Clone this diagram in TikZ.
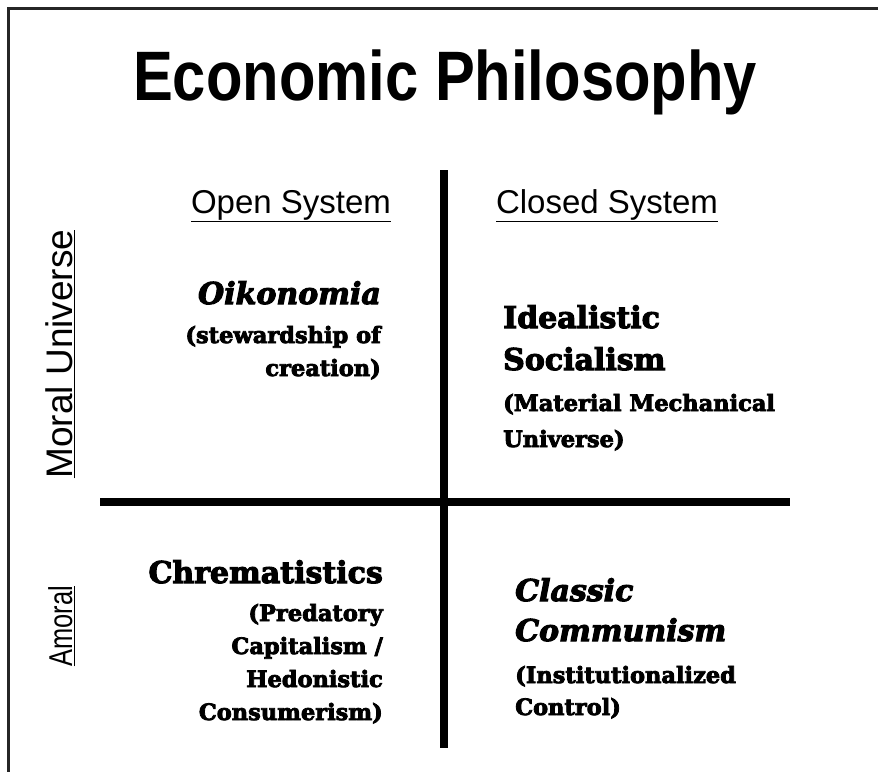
\documentclass[tikz,border=0pt]{standalone}
\usepackage{graphicx}
\usepackage{fontspec}
\setmainfont{DejaVu Serif}
\newfontfamily\arialfont{Liberation Sans}
\newfontfamily\slabfont[UprightFont=* Bold, ItalicFont=* Bold Italic, FakeBold=3.5]{DejaVu Serif}
\newcommand\headfont{\slabfont\fontsize{30}{38}\selectfont}
\newcommand\subfont{\slabfont\fontsize{22.5}{33}\selectfont}
\usetikzlibrary{positioning}

\begin{document}
\begin{tikzpicture}[x=1pt, y=-1pt,
    quad_text/.style={inner sep=0pt, font=\subfont},
    axis_label/.style={inner sep=0pt, font=\arialfont\fontsize{33}{40}\selectfont},
    divider/.style={line width=7.5pt}
]
\useasboundingbox (0,0) rectangle (878,772);

% frame (cut off right and bottom)
\coordinate (frame_tr) at (878,8);
\coordinate (frame_tl) at (8,8);
\coordinate (frame_bl) at (8,772);
\draw[line width=3pt, black!85] (frame_tr) -- (frame_tl) -- (frame_bl);

% title
\node[inner sep=0pt, anchor=base, font=\arialfont\bfseries\fontsize{70}{80}\selectfont] (title) at (445,100)
    {\scalebox{0.853}[1]{Economic Philosophy}};

% axis labels
\node[axis_label, anchor=base] (open_sys) at (291,213) {\underline{Open System}};
\node[axis_label, anchor=base] (closed_sys) at (607,213) {\underline{Closed System}};
\node[axis_label, anchor=base, rotate=90, font=\arialfont\fontsize{37}{40}\selectfont] (moral) at (72,354) {\underline{Moral Universe}};
\node[axis_label, anchor=base, rotate=90] (amoral) at (72,626) {\underline{\scalebox{0.77}[1]{Amoral}}};

% quadrants
\node[quad_text, anchor=north east, align=right] (oiko) at (381,281)
    {{\headfont\itshape Oikonomia}\\[6pt] (stewardship of\\ creation)};
\node[quad_text, anchor=north west, align=left] (ideal) at (503,305)
    {{\headfont Idealistic}\\[9pt] {\headfont Socialism}\\[8pt] (Material Mechanical\\[3pt] Universe)};
\node[quad_text, anchor=north east, align=right] (chrem) at (383,560)
    {{\headfont Chrematistics}\\[5pt] (Predatory\\ Capitalism /\\ Hedonistic\\ Consumerism)};
\node[quad_text, anchor=north west, align=left] (classic) at (515,578)
    {{\headfont\itshape Classic}\\[7pt] {\headfont\itshape Communism}\\[9pt] (Institutionalized\\[-1pt] Control)};

% dividing cross
\coordinate (v_top) at (444,170);
\coordinate (v_bot) at (444,748);
\coordinate (h_left) at (100,502);
\coordinate (h_right) at (790,502);
\draw[divider] (v_top) -- (v_bot);
\draw[divider] (h_left) -- (h_right);

\end{tikzpicture}
\end{document}
